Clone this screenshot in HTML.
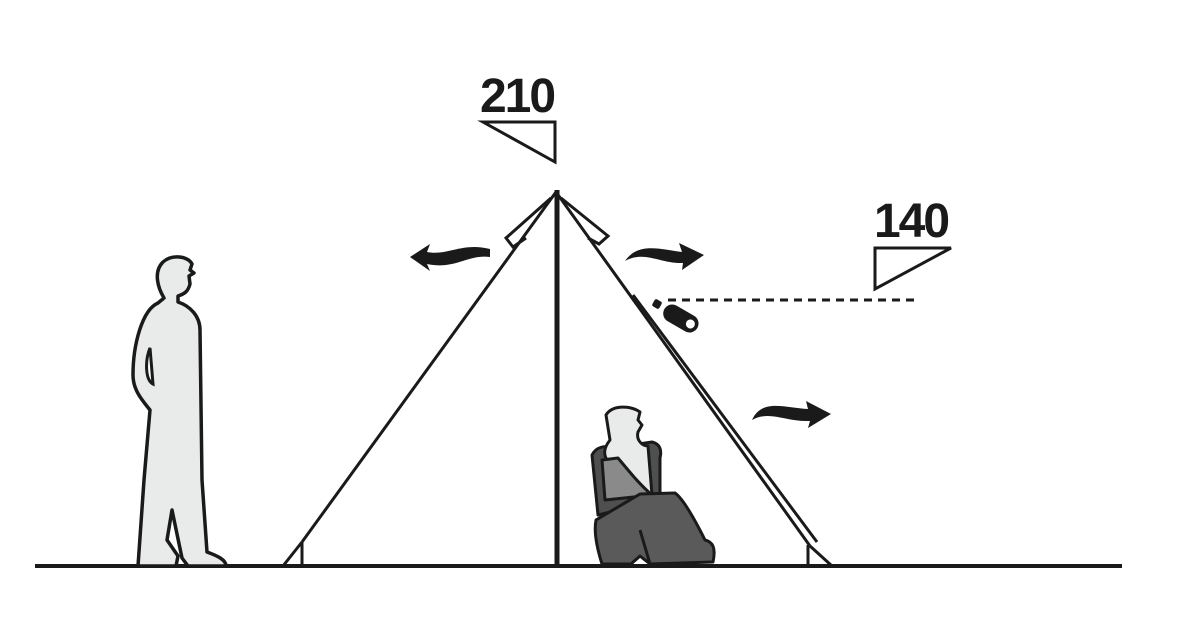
<!DOCTYPE html>
<html><head><meta charset="utf-8"><style>html,body{margin:0;padding:0;background:#fff}svg{display:block}</style></head><body>
<svg width="1200" height="623" viewBox="0 0 1200 623" xmlns="http://www.w3.org/2000/svg">
<rect width="1200" height="623" fill="#fff"/>
<line x1="35" y1="566" x2="1122" y2="566" stroke="#1a1a1a" stroke-width="4"/>
<text x="517" y="112" font-family="'Liberation Sans',sans-serif" font-size="48" font-weight="bold" text-anchor="middle" fill="#1a1a1a" letter-spacing="-2">210</text>
<polygon points="483,122 555,122 555,162" fill="none" stroke="#1a1a1a" stroke-width="3"/>
<text x="911" y="237" font-family="'Liberation Sans',sans-serif" font-size="48" font-weight="bold" text-anchor="middle" fill="#1a1a1a" letter-spacing="-2">140</text>
<polygon points="875,248 951,248 875,289" fill="none" stroke="#1a1a1a" stroke-width="3"/>
<line x1="668" y1="300" x2="914" y2="300" stroke="#1a1a1a" stroke-width="3" stroke-dasharray="8,6"/>
<g stroke="#1a1a1a" stroke-width="3" fill="none">
<line x1="556" y1="192" x2="302" y2="542"/>
<polyline points="302,542 283,566"/>
<line x1="302" y1="542" x2="302" y2="566"/>
<line x1="556" y1="192" x2="810" y2="546"/>
<line x1="633" y1="295" x2="817" y2="542"/>
<line x1="810" y1="546" x2="832" y2="566"/>
<line x1="808" y1="545" x2="808" y2="566"/>
<polyline points="551,198 506,238 513,247 526,238"/>
<polyline points="561,198 608,236 599,244 588,238"/>
</g>
<line x1="557" y1="190" x2="557" y2="568" stroke="#1a1a1a" stroke-width="5"/>
<rect x="653" y="300" width="8" height="8" rx="2" fill="#1a1a1a" transform="rotate(30 657 304)"/>
<g transform="rotate(30 680 318)"><rect x="662" y="309" width="38" height="18" rx="9" fill="#1a1a1a"/><circle cx="692" cy="318" r="4.5" fill="#fff"/></g>
<path d="M410,257 L430,244 L427,252 C448,256 462,242 490,249 L490,257 C468,254 455,270 427,264 L430,271 Z" fill="#1a1a1a"/>
<path d="M625,261 C638,242 660,249 682,252 L679,243 L704,255 L682,270 L683,263 C660,264 645,250 625,261 Z" fill="#1a1a1a"/>
<path d="M752,420 C762,398 785,408 808,409 L806,401 L831,414 L808,428 L810,421 C785,422 770,410 752,420 Z" fill="#1a1a1a"/>
<path d="M163,262 C172,254 188,256 192,264 L190,270 L194,273 L189,276 L190,284 C188,292 184,294 178,296 L178,302 C190,306 200,316 200,330 L202,480 L207,552 C218,556 226,560 226,566 L188,566 L182,558 L172,510 L167,540 L178,556 L176,566 L138,566 L144,480 L150,410 C142,400 133,390 133,375 C133,345 142,310 158,303 L164,298 C158,288 153,272 163,262 Z" fill="#e9ebea" stroke="#1a1a1a" stroke-width="3.5" stroke-linejoin="round"/>
<path d="M150,348 C145,360 145,380 153,384 Z" fill="#fff" stroke="#1a1a1a" stroke-width="3"/>
<path d="M592,455 C596,447 605,445 612,448 L652,442 C660,444 662,450 660,458 L660,500 L598,515 Z" fill="#4f4f4f" stroke="#1a1a1a" stroke-width="3" stroke-linejoin="round"/>
<path d="M606,415 C612,405 630,405 640,412 L638,420 L642,425 L638,432 C636,440 642,446 648,446 L652,495 L615,495 L607,460 C602,452 606,445 610,440 Z" fill="#e9ebea" stroke="#1a1a1a" stroke-width="3" stroke-linejoin="round"/>
<path d="M602,460 L618,458 C628,470 640,485 652,495 L605,500 Z" fill="#8a8a8a" stroke="#1a1a1a" stroke-width="3" stroke-linejoin="round"/>
<path d="M596,520 L640,494 L675,493 C685,500 700,530 705,540 C713,542 716,548 713,562 L650,564 L640,556 L631,564 L602,564 C596,545 594,530 596,520 Z" fill="#5a5a5a" stroke="#1a1a1a" stroke-width="3" stroke-linejoin="round"/>
<line x1="650" y1="564" x2="640" y2="530" stroke="#1a1a1a" stroke-width="3"/>
</svg>
</body></html>
